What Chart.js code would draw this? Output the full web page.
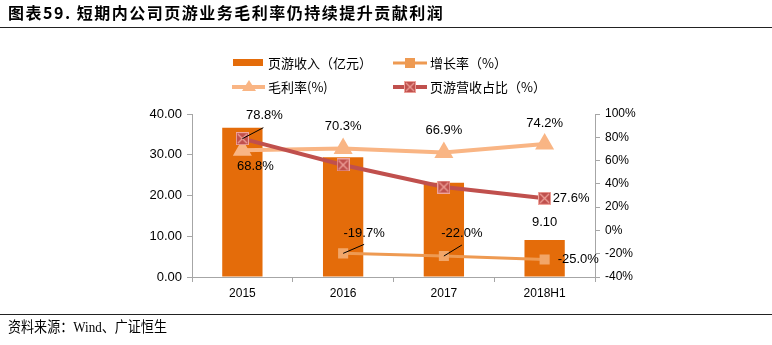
<!DOCTYPE html>
<html><head><meta charset="utf-8">
<script src="https://cdn.jsdelivr.net/npm/chart.js@4.4.0/dist/chart.umd.min.js"></script>
<style>
html,body{margin:0;padding:0;background:#fff;}
body{width:772px;height:345px;overflow:hidden;position:relative;font-family:"Noto Sans CJK SC","Liberation Sans",sans-serif;}
#title{position:absolute;left:8px;top:1px;font-size:16px;line-height:22px;letter-spacing:1.5px;font-weight:bold;color:#000;white-space:nowrap;}
#line1{position:absolute;left:0;top:27px;width:772px;height:1px;background:#222;}
#line2{position:absolute;left:0;top:314px;width:772px;height:1px;background:#222;}
#foot{position:absolute;left:8px;top:317px;font-size:15px;line-height:20px;color:#000;font-family:"Liberation Serif","Noto Sans CJK SC",serif;white-space:nowrap;transform:scaleX(0.87);transform-origin:left center;}
#c{position:absolute;left:0;top:0;}
</style></head>
<body>
<canvas id="c" width="772" height="345"></canvas>
<div id="title">图表59. 短期内公司页游业务毛利率仍持续提升贡献利润</div>
<div id="line1"></div>
<div id="line2"></div>
<div id="foot">资料来源：Wind、广证恒生</div>
<script>
// ---- data ----
const categories = ['2015', '2016', '2017', '2018H1'];
const revenue = [36.6, 29.4, 23.1, 9.10];      // 页游收入（亿元）
const growth = [null, -19.7, -22.0, -25.0];     // 增长率（%）
const margin = [68.8, 70.3, 66.9, 74.2];        // 毛利率(%)
const share = [78.8, 56.2, 37.3, 27.6];         // 页游营收占比（%）
const seriesNames = ['页游收入（亿元）', '增长率（%）', '毛利率(%)', '页游营收占比（%）'];

// ---- styles ----
const C_BAR = '#E46C0A', C_GROWTH = '#EE9A52', C_MARGIN = '#F9B584', C_SHARE = '#C0504D';

function shareMarker(size) {
  const cv = document.createElement('canvas');
  cv.width = size; cv.height = size;
  const x = cv.getContext('2d');
  x.fillStyle = '#C0504D'; x.fillRect(0, 0, size, size);
  x.strokeStyle = '#EFA49C'; x.lineWidth = 1;
  x.strokeRect(0.5, 0.5, size - 1, size - 1);
  x.lineWidth = 1.2;
  x.beginPath(); x.moveTo(2, 2); x.lineTo(size - 2, size - 2);
  x.moveTo(size - 2, 2); x.lineTo(2, size - 2); x.stroke();
  return cv;
}
const shareImg = shareMarker(13);

// label placement: [datasetIndex, pointIndex, dx, dy, align, leaderEnd, formatter]
const labelSpec = [
  [0, 3, 0, -17, 'center', null, v => v.toFixed(2)],
  [2, 0, 13, 16, 'center', null],
  [2, 1, 0, -22, 'center', null],
  [2, 2, 0, -22, 'center', null],
  [2, 3, 0, -21, 'center', null],
  [3, 0, 22, -23, 'center', [21, -11]],
  [3, 3, 8, 0, 'left', null],
  [1, 1, 21, -20, 'center', [21, -9]],
  [1, 2, 18, -23, 'center', [18, -11]],
  [1, 3, 13, 0, 'left', null],
];

const labelPlugin = {
  id: 'labels',
  afterDatasetsDraw(chart) {
    const ctx = chart.ctx;
    ctx.save();
    ctx.font = '13px "Liberation Sans"';
    ctx.fillStyle = '#000';
    ctx.textBaseline = 'middle';
    labelSpec.forEach(s => {
      const [di, pi, dx, dy, align, leader, fmt] = s;
      const el = chart.getDatasetMeta(di).data[pi];
      const v = chart.data.datasets[di].data[pi];
      const txt = fmt ? fmt(v) : v.toFixed(1) + '%';
      if (leader) {
        ctx.strokeStyle = '#000'; ctx.lineWidth = 1;
        ctx.beginPath(); ctx.moveTo(el.x, el.y); ctx.lineTo(el.x + leader[0], el.y + leader[1]); ctx.stroke();
      }
      ctx.textAlign = align;
      ctx.fillText(txt, el.x + dx, el.y + dy);
    });
    ctx.restore();
  }
};

const legendPlugin = {
  id: 'customLegend',
  afterDraw(chart) {
    const ctx = chart.ctx;
    ctx.save();
    ctx.font = '13px "Noto Sans CJK SC"';
    ctx.textBaseline = 'middle';
    ctx.textAlign = 'left';
    // bar
    ctx.fillStyle = C_BAR; ctx.fillRect(233, 59, 30, 7);
    ctx.fillStyle = '#000'; ctx.fillText(seriesNames[0], 268, 63);
    // growth
    ctx.strokeStyle = C_GROWTH; ctx.lineWidth = 3;
    ctx.beginPath(); ctx.moveTo(393, 63); ctx.lineTo(427, 63); ctx.stroke();
    ctx.fillStyle = C_GROWTH; ctx.fillRect(405, 58, 10, 10);
    ctx.fillStyle = '#000'; ctx.fillText(seriesNames[1], 430, 63);
    // margin
    ctx.strokeStyle = C_MARGIN; ctx.lineWidth = 4;
    ctx.beginPath(); ctx.moveTo(232, 87); ctx.lineTo(265, 87); ctx.stroke();
    ctx.fillStyle = C_MARGIN;
    ctx.beginPath(); ctx.moveTo(249, 80); ctx.lineTo(256, 91); ctx.lineTo(242, 91); ctx.closePath(); ctx.fill();
    ctx.fillStyle = '#000'; ctx.fillText(seriesNames[2], 268, 87);
    // share
    ctx.strokeStyle = C_SHARE; ctx.lineWidth = 4;
    ctx.beginPath(); ctx.moveTo(393, 87); ctx.lineTo(427, 87); ctx.stroke();
    ctx.drawImage(shareImg, 404, 81, 12, 12);
    ctx.fillStyle = '#000'; ctx.fillText(seriesNames[3], 430, 87);
    ctx.restore();
  }
};

new Chart(document.getElementById('c'), {
  data: {
    labels: categories,
    datasets: [
      { type: 'bar', label: seriesNames[0], data: revenue, yAxisID: 'y', backgroundColor: C_BAR,
        barPercentage: 0.8, categoryPercentage: 0.5, order: 10 },
      { type: 'line', label: seriesNames[1], data: growth, yAxisID: 'y1', borderColor: C_GROWTH, borderWidth: 3,
        pointStyle: 'rect', pointRadius: 5, pointBackgroundColor: '#F2A668', pointBorderColor: '#F2A668', order: 3 },
      { type: 'line', label: seriesNames[2], data: margin, yAxisID: 'y1', borderColor: C_MARGIN, borderWidth: 4,
        pointStyle: 'triangle', pointRadius: 7, pointBackgroundColor: C_MARGIN, pointBorderColor: C_MARGIN, order: 2 },
      { type: 'line', label: seriesNames[3], data: share, yAxisID: 'y1', borderColor: C_SHARE, borderWidth: 4,
        pointStyle: shareImg, order: 1 },
    ]
  },
  options: {
    responsive: false,
    devicePixelRatio: 1,
    animation: false,
    layout: { padding: { top: 114, bottom: 38, left: 0, right: 0 } },
    plugins: { legend: { display: false }, tooltip: { enabled: false } },
    scales: {
      x: {
        offset: true,
        grid: { display: true, drawOnChartArea: false, offset: true, tickLength: 5, color: '#A6A6A6' },
        border: { color: '#A6A6A6' },
        ticks: { color: '#000', font: { family: 'Liberation Sans', size: 12 }, padding: 4 },
        afterFit(s) { s.height = 30; }
      },
      y: {
        position: 'left', min: 0, max: 40,
        ticks: { stepSize: 10, color: '#000', font: { family: 'Liberation Sans', size: 13 }, padding: 5,
          callback: v => v.toFixed(2) },
        grid: { drawOnChartArea: false, tickLength: 5, color: '#A6A6A6' },
        border: { color: '#A6A6A6' },
        afterFit(s) { s.width = 192; }
      },
      y1: {
        position: 'right', min: -40, max: 100,
        ticks: { stepSize: 20, color: '#000', font: { family: 'Liberation Sans', size: 12 }, padding: 5,
          callback: v => v + '%' },
        grid: { drawOnChartArea: false, tickLength: 5, color: '#A6A6A6' },
        border: { color: '#A6A6A6' },
        afterFit(s) { s.width = 177; }
      }
    }
  },
  plugins: [labelPlugin, legendPlugin]
});
</script>
</body></html>
